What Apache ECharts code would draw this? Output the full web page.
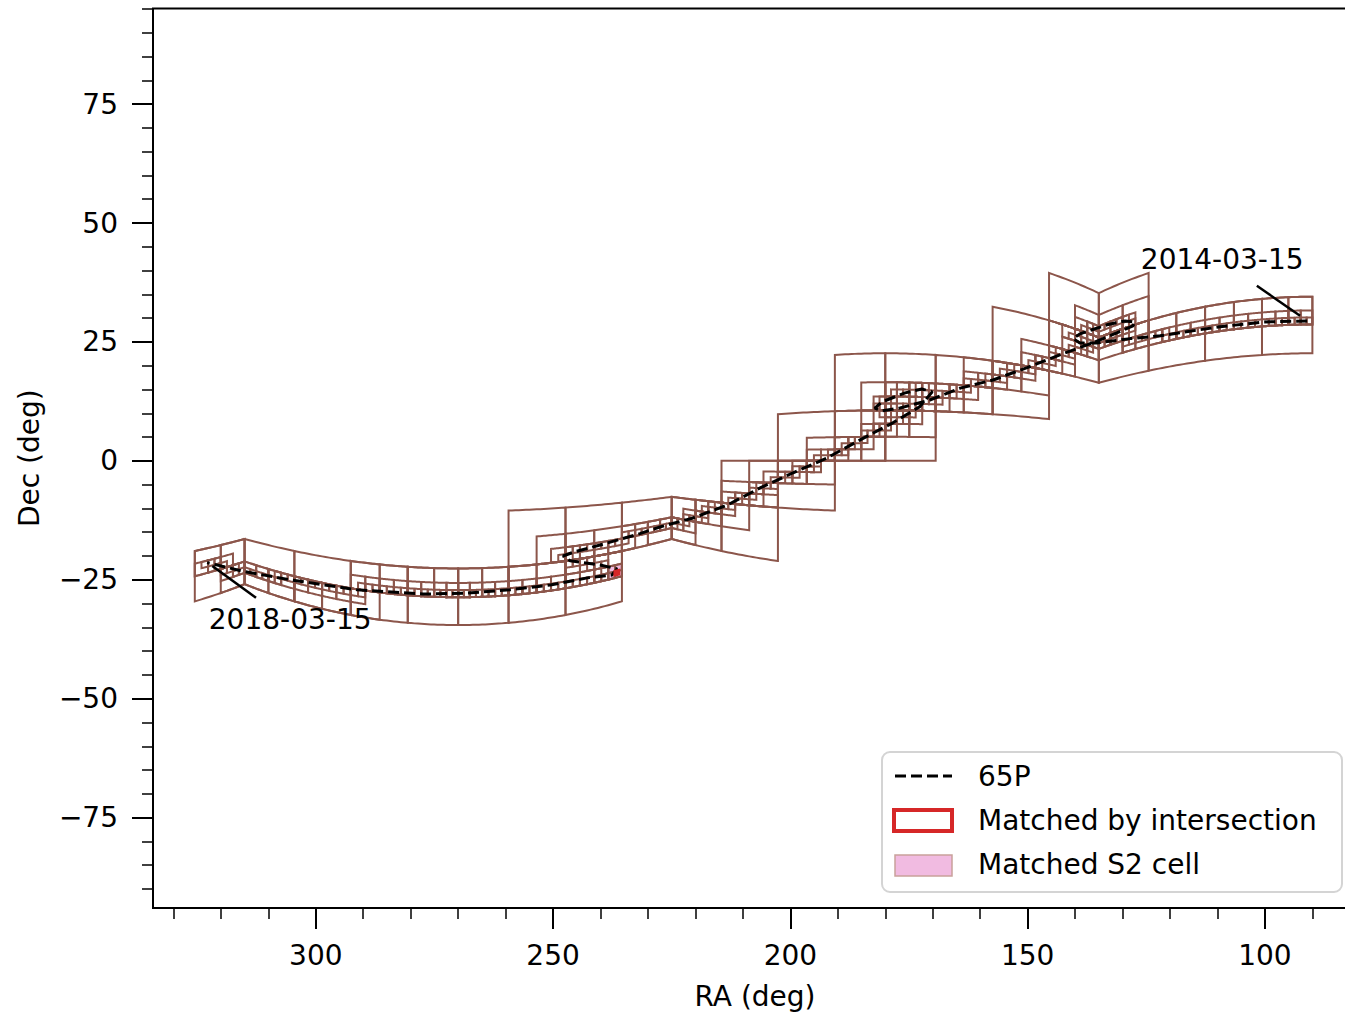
<!DOCTYPE html>
<html><head><meta charset="utf-8">
<script src="https://cdn.jsdelivr.net/npm/echarts@6/dist/echarts.min.js"></script>
<style>html,body{margin:0;padding:0;background:#fff;overflow:hidden}#c{width:1345px;height:1013px}</style>
</head><body><div id="c"></div>
<script>
// ---------- data ----------
const seriesName = '65P';
// trajectory of 65P (time order, 2014-03-15 -> 2018-03-15)
const pathRA  = [91.1,100.2,109.5,122.1,128.4,135.4,139.0,140.4,139.0,133.3,129.5,127.4,127.8,131.2,135.8,143.2,150.1,157.3,164.2,170.6,176.9,180.7,182.2,180.7,175.8,172.3,170.1,172.7,178.4,185.3,192.3,199.4,206.4,213.3,220.5,227.5,231.7,240.1,245.4,247.9,246.4,240.1,236.5,237.6,242.8,250.6,259.1,268.1,277.4,291.3,305.4,314.9,322.9];
const pathDec = [29.4,29.2,28.2,26.3,25.7,24.8,24.8,25.7,26.7,28.6,29.4,29.2,28.4,26.9,25.0,22.3,19.6,17.0,15.3,12.8,11.1,10.5,11.1,12.4,14.3,15.1,14.5,11.4,8.0,4.4,0.6,-2.5,-5.7,-9.3,-12.0,-13.9,-15.3,-17.7,-19.1,-20.0,-21.0,-21.9,-22.7,-24.0,-24.6,-26.1,-27.1,-27.8,-28.0,-27.1,-25.0,-23.3,-21.4];
// S2 cell levels drawn around the trajectory
const coverLevels = [3,4,5,6];
// matched cells: [face centre RA, level, i, j]
const matchedS2Cell = [270, 5, 4, 6];
const matchedIntersection = [270, 7, 17, 25];
// annotations
const annotLabels = ['2014-03-15','2018-03-15'];
const annotTextRA = [109.0, 305.4];
const annotTextDec = [42.3, -33.4];
const annotFromRA = [101.7, 321.8];
const annotFromDec = [36.8, -22.1];
const annotToRA = [92.6, 312.6];
const annotToDec = [30.5, -28.8];
// axes
const xMajorTicks = [300,250,200,150,100];
const xMinorTicks = [330,320,310,290,280,270,260,240,230,220,210,190,180,170,160,140,130,120,110,90];
const yMajorTicks = [-75,-50,-25,0,25,50,75];
const yMinorTicks = [-90,-85,-80,-70,-65,-60,-55,-45,-40,-35,-30,-20,-15,-10,-5,5,10,15,20,30,35,40,45,55,60,65,70,80,85,90,95];
const legendLabels = ['65P','Matched by intersection','Matched S2 cell'];

// ---------- S2 geometry (equatorial faces) ----------
const D = Math.PI/180;
function stToUV(s){ return s>=0.5 ? (4*s*s-1)/3 : (1-4*(1-s)*(1-s))/3; }
function uvToST(u){ return u>=0 ? 0.5*Math.sqrt(1+3*u) : 1-0.5*Math.sqrt(1-3*u); }
function faceCenter(ra){ return Math.round(ra/90)*90; }
function raDecToST(c, ra, dec){
  const d = (ra-c)*D, a = Math.tan(d), b = Math.tan(dec*D)/Math.cos(d);
  return [uvToST(a), uvToST(b)];
}
function stToRaDec(c, s, t){
  const a = stToUV(s), b = stToUV(t);
  return [c + Math.atan(a)/D, Math.atan(b/Math.sqrt(1+a*a))/D];
}
function cellPolygon(c, L, i, j){
  const n = 1<<L, s0=i/n, s1=(i+1)/n, t0=j/n, t1=(j+1)/n, pts=[], K=16;
  for(let k=0;k<=K;k++) pts.push(stToRaDec(c, s0+(s1-s0)*k/K, t0));
  for(let k=0;k<=K;k++) pts.push(stToRaDec(c, s1+(s0-s1)*k/K, t1));
  return pts;
}
// cells of each level crossed by the trajectory
const cellMap = new Map();
for(let k=0;k<pathRA.length-1;k++){
  const dr = pathRA[k+1]-pathRA[k], dd = pathDec[k+1]-pathDec[k];
  const n = Math.ceil(Math.hypot(dr,dd)/0.02)+1;
  for(let m=0;m<=n;m++){
    const ra = pathRA[k]+dr*m/n, dec = pathDec[k]+dd*m/n;
    const c = faceCenter(ra), st = raDecToST(c, ra, dec);
    for(const L of coverLevels){
      const N = 1<<L;
      const i = Math.min(N-1, Math.floor(st[0]*N)), j = Math.min(N-1, Math.floor(st[1]*N));
      const key = c+'_'+L+'_'+i+'_'+j;
      if(!cellMap.has(key)) cellMap.set(key,[c,L,i,j]);
    }
  }
}
const cells = Array.from(cellMap.values());

// ---------- chart ----------
const FONT = 'DejaVu Sans';
const chart = echarts.init(document.getElementById('c'), null, {renderer:'svg'});
function cellSeries(list, stroke, fill, width, z){
  return {
    type:'custom', z:z, silent:true,
    data: list.map(cl => { const p = stToRaDec(cl[0], (cl[2]+0.5)/(1<<cl[1]), (cl[3]+0.5)/(1<<cl[1])); return [p[0],p[1],cl[0],cl[1],cl[2],cl[3]]; }),
    encode:{x:0,y:1},
    renderItem(params, api){
      const poly = cellPolygon(api.value(2), api.value(3), api.value(4), api.value(5)).map(p => api.coord(p));
      return {type:'polygon', shape:{points:poly}, style:{fill:fill, stroke:stroke, lineWidth:width, lineJoin:'miter'}};
    }
  };
}
const commonX = {type:'value', inverse:true, min:80.6, max:334.3, splitLine:{show:false}};
const commonY = {type:'value', min:-94.0, max:95.1, splitLine:{show:false}};
chart.setOption({
  animation:false,
  backgroundColor:'#fff',
  grid:{left:153, right:-12, top:8.5, bottom:105, outerBoundsMode:'none', containLabel:false, show:true, borderColor:'#000', borderWidth:2, backgroundColor:'transparent'},
  xAxis:[
    Object.assign({}, commonX, {position:'bottom', name:'RA (deg)', nameLocation:'middle', nameGap:74,
      nameTextStyle:{fontSize:28, color:'#000', fontFamily:FONT},
      axisLine:{show:false, onZero:false}, axisTick:{show:true, length:21, customValues:xMajorTicks, lineStyle:{color:'#000', width:2}},
      axisLabel:{show:true, customValues:xMajorTicks, margin:33, fontSize:28, color:'#000', fontFamily:FONT}}),
    Object.assign({}, commonX, {position:'bottom', axisLine:{show:false, onZero:false},
      axisTick:{show:true, length:11, customValues:xMinorTicks, lineStyle:{color:'#000', width:1.5}},
      axisLabel:{show:false}})
  ],
  yAxis:[
    Object.assign({}, commonY, {position:'left', name:'Dec (deg)', nameLocation:'middle', nameGap:110, nameRotate:90,
      nameTextStyle:{fontSize:28, color:'#000', fontFamily:FONT},
      axisLine:{show:false, onZero:false}, axisTick:{show:true, length:21, customValues:yMajorTicks, lineStyle:{color:'#000', width:2}},
      axisLabel:{show:true, customValues:yMajorTicks, margin:35, fontSize:28, color:'#000', fontFamily:FONT,
        formatter: v => v<0 ? '\u2212'+Math.abs(v) : String(v)}}),
    Object.assign({}, commonY, {position:'left', axisLine:{show:false, onZero:false},
      axisTick:{show:true, length:11, customValues:yMinorTicks, lineStyle:{color:'#000', width:1.5}},
      axisLabel:{show:false}})
  ],
  series:[
    cellSeries([matchedS2Cell], '#c9a19b', '#f1bbe1', 1, 1),
    cellSeries(cells, '#8c564b', 'none', 2, 2),
    {name:seriesName, type:'line', z:5, silent:true, showSymbol:false, symbol:'none',
     data: pathRA.map((r,k)=>[r,pathDec[k]]),
     lineStyle:{color:'#000', width:3, type:[11,5]}},
    cellSeries([matchedIntersection], '#d62728', '#d62728', 3.5, 6),
    {type:'custom', z:6, silent:true,
     data: annotLabels.map((s,k)=>[annotFromRA[k], annotFromDec[k], annotToRA[k], annotToDec[k]]),
     encode:{x:0,y:1},
     renderItem(params, api){
       const p0 = api.coord([api.value(0), api.value(1)]), p1 = api.coord([api.value(2), api.value(3)]);
       return {type:'line', shape:{x1:p0[0], y1:p0[1], x2:p1[0], y2:p1[1]}, style:{stroke:'#000', lineWidth:2.5}};
     }},
    {type:'custom', z:6, silent:true,
     data: annotLabels.map((s,k)=>[annotTextRA[k], annotTextDec[k], k]),
     encode:{x:0,y:1},
     renderItem(params, api){
       const p = api.coord([api.value(0), api.value(1)]);
       return {type:'text', x:p[0], y:p[1], style:{text:annotLabels[api.value(2)], fontSize:28, fontFamily:FONT, fill:'#000', align:'center', verticalAlign:'middle'}};
     }}
  ],
  graphic:[{
    type:'group', z:100, children:[
      {type:'rect', shape:{x:882, y:752, width:460, height:140, r:8}, style:{fill:'#fff', stroke:'#d4d4d4', lineWidth:2}},
      {type:'line', shape:{x1:895, y1:776, x2:952, y2:776}, style:{stroke:'#000', lineWidth:3, lineDash:[11,5]}},
      {type:'rect', shape:{x:894, y:810, width:58, height:21}, style:{fill:'#fff', stroke:'#d62728', lineWidth:4}},
      {type:'rect', shape:{x:895, y:855, width:57, height:21}, style:{fill:'#f1bbe1', stroke:'#c9a19b', lineWidth:1.5}},
      {type:'text', x:978, y:776, style:{text:legendLabels[0], fontSize:28, fontFamily:FONT, fill:'#000', verticalAlign:'middle'}},
      {type:'text', x:978, y:820, style:{text:legendLabels[1], fontSize:28, fontFamily:FONT, fill:'#000', verticalAlign:'middle'}},
      {type:'text', x:978, y:864, style:{text:legendLabels[2], fontSize:28, fontFamily:FONT, fill:'#000', verticalAlign:'middle'}}
    ]
  }]
});
</script></body></html>
